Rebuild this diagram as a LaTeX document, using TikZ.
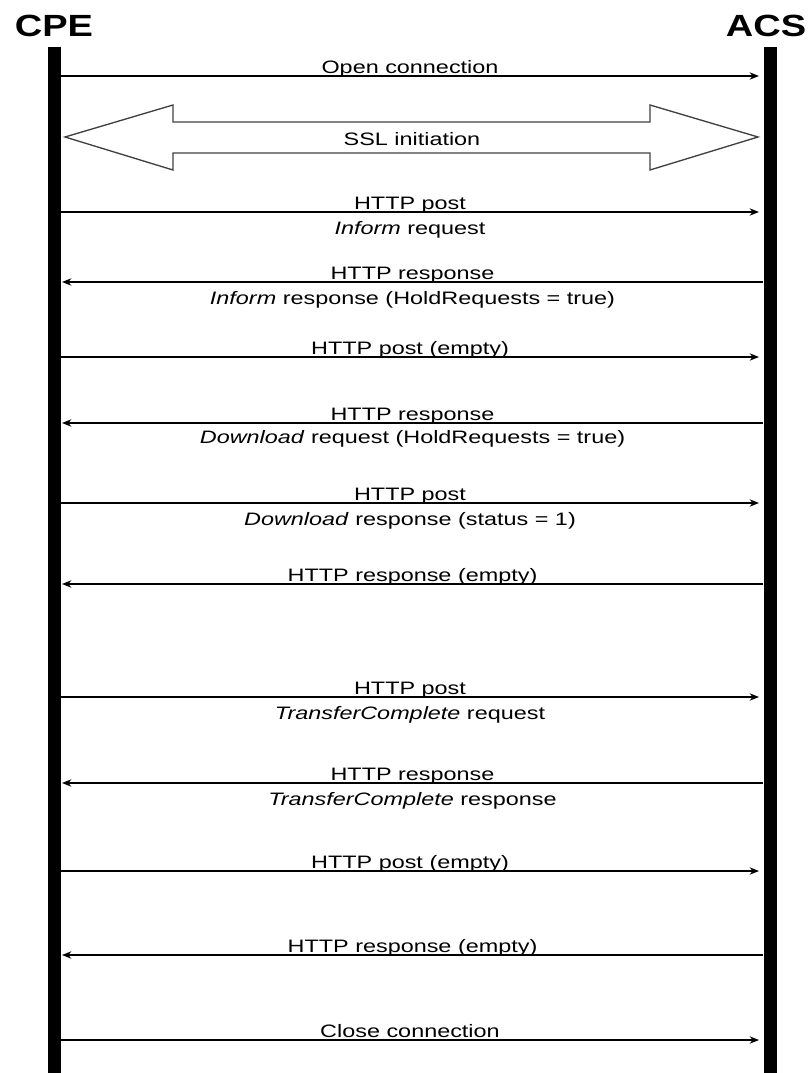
\documentclass[tikz,border=0pt]{standalone}
\usepackage{fontspec}
\setmainfont[FakeStretch=1.3]{Liberation Sans}
\newfontfamily\titlefont[FakeStretch=1.24]{Liberation Sans}
\usetikzlibrary{arrows.meta, positioning}

\tikzset{
  lifeline/.style={line width=9.75pt},
  msg/.style={line width=1.1pt, -{Stealth[length=7pt, width=5.5pt]}},
  lbl/.style={font=\fontsize{13.5}{15}\selectfont, inner sep=0pt, anchor=base},
  above lbl/.style={lbl, yshift=1.8pt},
  below lbl/.style={lbl, yshift=-17pt},
  title/.style={font=\titlefont\bfseries\fontsize{23}{25}\selectfont, inner sep=0pt, anchor=base},
}

\begin{document}
\begin{tikzpicture}[x=0.75pt, y=-0.75pt]
\useasboundingbox (0,0) rectangle (811,1073);

%% parties
\coordinate (cpetop) at (54.5,47);
\coordinate (cpebot) at (54.5,1073);
\coordinate (acstop) at (770,47);
\coordinate (acsbot) at (770,1073);
\node[title] (cpe) at (54,37) {CPE};
\node[title] (acs) at (766,37) {ACS};
\draw[lifeline] (cpetop) -- (cpebot);
\draw[lifeline] (acstop) -- (acsbot);

%% open connection
\coordinate (c1) at (61,76);  \coordinate (a1) at (759,76);
\draw[msg] (c1) -- (a1) node[midway, above lbl] {Open connection};

%% SSL initiation
\draw[line width=1pt, draw=black!75] (65,137) -- (173,105) -- (173,122) -- (650,122) -- (650,105)
  -- (758,137) -- (650,170) -- (650,153) -- (173,153) -- (173,170) -- cycle;
\node[lbl, anchor=center] (ssl) at (412,139) {SSL initiation};

%% inform
\coordinate (c2) at (61,212);  \coordinate (a2) at (759,212);
\draw[msg] (c2) -- (a2) node[midway, above lbl] {HTTP post}
  node[midway, below lbl] {\textit{Inform} request};
\coordinate (a3) at (763,282);  \coordinate (c3) at (62,282);
\draw[msg] (a3) -- (c3) node[midway, above lbl] {HTTP response}
  node[midway, below lbl] {\textit{Inform} response (HoldRequests = true)};

%% download
\coordinate (c4) at (61,357);  \coordinate (a4) at (759,357);
\draw[msg] (c4) -- (a4) node[midway, above lbl] {HTTP post (empty)};
\coordinate (a5) at (763,423);  \coordinate (c5) at (62,423);
\draw[msg] (a5) -- (c5) node[midway, above lbl] {HTTP response}
  node[midway, lbl, yshift=-15.5pt] {\textit{Download} request (HoldRequests = true)};
\coordinate (c6) at (61,503);  \coordinate (a6) at (759,503);
\draw[msg] (c6) -- (a6) node[midway, above lbl] {HTTP post}
  node[midway, below lbl] {\textit{Download} response (status = 1)};
\coordinate (a7) at (763,584);  \coordinate (c7) at (62,584);
\draw[msg] (a7) -- (c7) node[midway, above lbl] {HTTP response (empty)};

%% transfer complete
\coordinate (c8) at (61,697);  \coordinate (a8) at (759,697);
\draw[msg] (c8) -- (a8) node[midway, above lbl] {HTTP post}
  node[midway, below lbl] {\textit{TransferComplete} request};
\coordinate (a9) at (763,783);  \coordinate (c9) at (62,783);
\draw[msg] (a9) -- (c9) node[midway, above lbl] {HTTP response}
  node[midway, below lbl] {\textit{TransferComplete} response};

%% close
\coordinate (c10) at (61,871);  \coordinate (a10) at (759,871);
\draw[msg] (c10) -- (a10) node[midway, above lbl] {HTTP post (empty)};
\coordinate (a11) at (763,955);  \coordinate (c11) at (62,955);
\draw[msg] (a11) -- (c11) node[midway, above lbl] {HTTP response (empty)};
\coordinate (c12) at (61,1040);  \coordinate (a12) at (759,1040);
\draw[msg] (c12) -- (a12) node[midway, above lbl] {Close connection};

\end{tikzpicture}
\end{document}
